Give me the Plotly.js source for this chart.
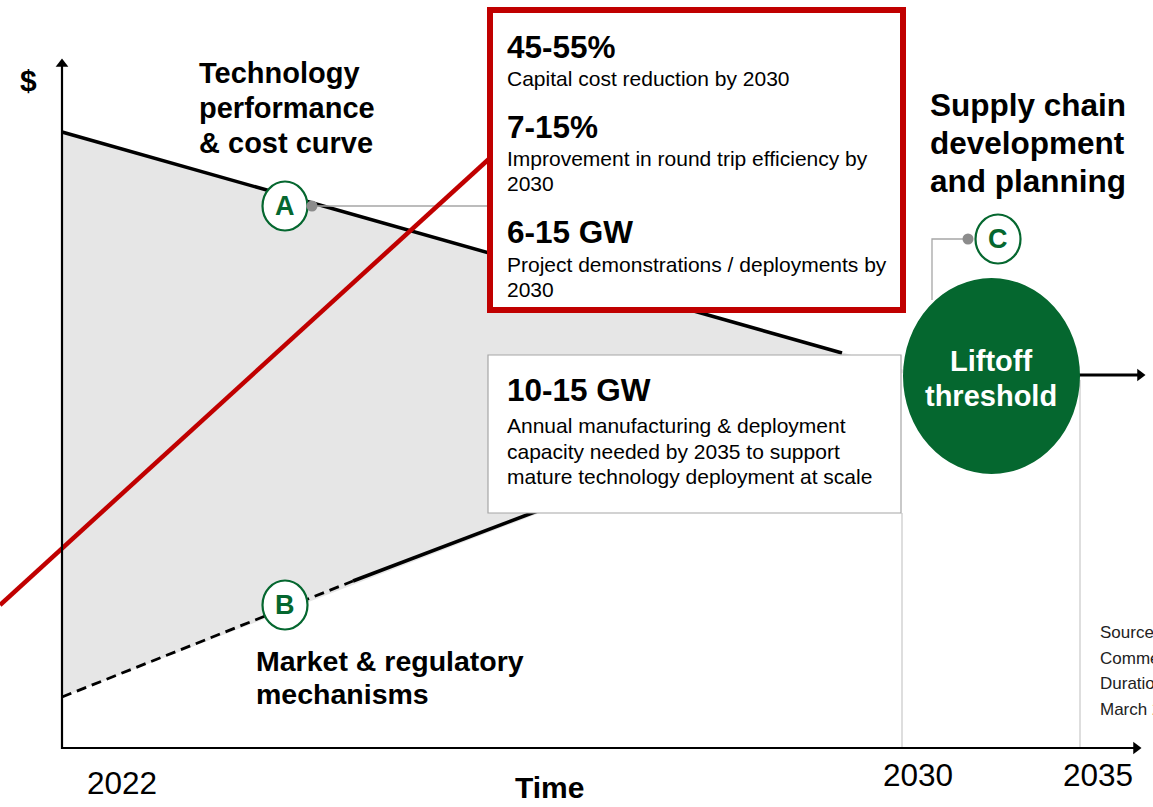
<!DOCTYPE html>
<html><head><meta charset="utf-8">
<script src="https://cdn.plot.ly/plotly-3.0.1.min.js"></script>
<style>html,body{margin:0;padding:0;background:#fff;overflow:hidden}#chart{width:1153px;height:807px}</style>
</head><body><div id="chart"></div><script>
// Conceptual diagram: coordinates are diagram units (x to the right, y downward)
const axisX = [62, 62, 1136];
const axisY = [64, 748, 748];
const envelopeX = [62, 908, 62];
const envelopeY = [132, 371, 697];
const costCurveX = [62, 842];
const costCurveY = [132, 353];
const marketDashedX = [62, 353];
const marketDashedY = [697, 581];
const marketSolidX = [353, 540];
const marketSolidY = [581, 510];
const redLineX = [0, 490];
const redLineY = [605, 158];
const liftoffArrowX = [1057, 1140];
const liftoffArrowY = [375, 375];
const connectorAX = [312, 490];
const connectorAY = [206, 206];
const connectorCX = [968, 932, 932];
const connectorCY = [239, 239, 300];
const guide2030X = [902, 902];
const guide2030Y = [513, 748];
const guide2035X = [1080, 1080];
const guide2035Y = [380, 748];

const milestoneLabels = ['A', 'B', 'C'];
const milestoneX = [285, 285, 998];
const milestoneY = [206, 605, 239];
const dotX = [312, 968];
const dotY = [206, 239];

const yearLabels = ['2022', '2030', '2035'];
const yearX = [122, 918, 1098];
const yearY = [783, 775, 775];

const redBoxHeads = ['45-55%', '7-15%', '6-15 GW'];
const redBoxHeadY = [47, 127, 232];
const redBoxBody = ['Capital cost reduction by 2030', 'Improvement in round trip efficiency by', '2030', 'Project demonstrations / deployments by', '2030'];
const redBoxBodyY = [78, 158, 183, 264, 289];

const capHead = '10-15 GW';
const capBody = ['Annual manufacturing & deployment', 'capacity needed by 2035 to support', 'mature technology deployment at scale'];
const capBodyY = [425, 451, 476];

const techTitle = ['Technology', 'performance', '& cost curve'];
const techTitleY = [73, 108, 143];
const supplyTitle = ['Supply chain', 'development', 'and planning'];
const supplyTitleY = [105, 143, 181];
const marketTitle = ['Market & regulatory', 'mechanisms'];
const marketTitleY = [661, 694];
const sourceLines = ['Source: U.S. DOE, Pathways to', 'Commercial Liftoff: Long', 'Duration Energy Storage,', 'March 2023'];
const sourceY = [632, 658, 683, 709];

const FONT = 'Liberation Sans, Arial, sans-serif';
const GREEN = '#05672f';
const RED = '#c00000';
const GREY = '#a6a6a6';

const traces = [
  {x: envelopeX, y: envelopeY, mode: 'lines', fill: 'toself', fillcolor: '#e6e6e6', line: {width: 0}},
  {x: costCurveX, y: costCurveY, mode: 'lines', line: {color: '#000', width: 3.5}},
  {x: marketDashedX, y: marketDashedY, mode: 'lines', line: {color: '#000', width: 2.8, dash: '10px,6px'}},
  {x: marketSolidX, y: marketSolidY, mode: 'lines', line: {color: '#000', width: 3.5}},
  {x: guide2030X, y: guide2030Y, mode: 'lines', line: {color: '#c8c8c8', width: 1.2}},
  {x: guide2035X, y: guide2035Y, mode: 'lines', line: {color: '#c8c8c8', width: 1.2}},
  {x: connectorAX, y: connectorAY, mode: 'lines', line: {color: GREY, width: 1.3}},
  {x: connectorCX, y: connectorCY, mode: 'lines', line: {color: GREY, width: 1.3}},
  {x: redLineX, y: redLineY, mode: 'lines', line: {color: RED, width: 4.5}},
  {x: axisX, y: axisY, mode: 'lines', line: {color: '#000', width: 2.2}},
  {x: [axisX[0], axisX[2]], y: [axisY[0], axisY[2]], mode: 'markers',
   marker: {symbol: ['triangle-up', 'triangle-right'], size: 11, color: '#000'}},
  {x: liftoffArrowX, y: liftoffArrowY, mode: 'lines', line: {color: '#000', width: 3}},
  {x: [liftoffArrowX[1]], y: [liftoffArrowY[1]], mode: 'markers',
   marker: {symbol: 'triangle-right', size: 11, color: '#000'}}
];

const shapes = [
  {type: 'rect', x0: 490, x1: 903, y0: 10, y1: 310, line: {color: RED, width: 6}, fillcolor: '#fff', layer: 'above'},
  {type: 'rect', x0: 488, x1: 901, y0: 355, y1: 513, line: {color: GREY, width: 1.2}, fillcolor: '#fff', layer: 'above'},
  {type: 'circle', x0: 903, x1: 1080, y0: 278, y1: 474, line: {width: 0}, fillcolor: GREEN, layer: 'above'}
];
milestoneLabels.forEach((m, i) => {
  shapes.push({type: 'circle', x0: milestoneX[i] - 22.5, x1: milestoneX[i] + 22.5, y0: milestoneY[i] - 24.5, y1: milestoneY[i] + 24.5,
    line: {color: GREEN, width: 2.2}, fillcolor: '#fff', layer: 'above'});
});
dotX.forEach((x, i) => {
  shapes.push({type: 'circle', x0: x - 5.5, x1: x + 5.5, y0: dotY[i] - 5.5, y1: dotY[i] + 5.5,
    line: {width: 0}, fillcolor: '#8c8c8c', layer: 'above'});
});

const ann = [];
function txt(text, x, y, size, opts) {
  ann.push(Object.assign({text: text, x: x, y: y, xref: 'x', yref: 'y', showarrow: false,
    xanchor: 'left', yanchor: 'middle', font: {family: FONT, size: size, color: '#000'}}, opts || {}));
}
txt('<b>$</b>', 28, 80, 30, {xanchor: 'center'});
techTitle.forEach((t, i) => txt('<b>' + t + '</b>', 197, techTitleY[i], 29));
supplyTitle.forEach((t, i) => txt('<b>' + t + '</b>', 928, supplyTitleY[i], 31.5));
marketTitle.forEach((t, i) => txt('<b>' + t + '</b>', 254, marketTitleY[i], 28.5));
redBoxHeads.forEach((t, i) => txt('<b>' + t + '</b>', 505, redBoxHeadY[i], 31.5));
redBoxBody.forEach((t, i) => txt(t, 505, redBoxBodyY[i], 21));
txt('<b>' + capHead + '</b>', 505, 390, 31.5);
capBody.forEach((t, i) => txt(t, 505, capBodyY[i], 21));
milestoneLabels.forEach((m, i) => txt('<b>' + m + '</b>', milestoneX[i], milestoneY[i], 27,
  {xanchor: 'center', font: {family: FONT, size: 27, color: GREEN}}));
txt('<b>Liftoff</b>', 991, 361, 29, {xanchor: 'center', font: {family: FONT, size: 29, color: '#fff'}});
txt('<b>threshold</b>', 991, 396, 29, {xanchor: 'center', font: {family: FONT, size: 29, color: '#fff'}});
yearLabels.forEach((t, i) => txt(t, yearX[i], yearY[i], 31.5, {xanchor: 'center'}));
txt('<b>Time</b>', 549, 787, 30, {xanchor: 'center'});
sourceLines.forEach((t, i) => txt(t, 1098, sourceY[i], 17, {font: {family: FONT, size: 17, color: '#222'}}));

const layout = {
  width: 1153, height: 807, margin: {l: 0, r: 0, t: 0, b: 0},
  paper_bgcolor: '#fff', plot_bgcolor: '#fff', showlegend: false,
  xaxis: {range: [0, 1153], visible: false, fixedrange: true},
  yaxis: {range: [807, 0], visible: false, fixedrange: true},
  shapes: shapes, annotations: ann
};
Plotly.newPlot('chart', traces, layout, {staticPlot: true, displayModeBar: false});
</script></body></html>
